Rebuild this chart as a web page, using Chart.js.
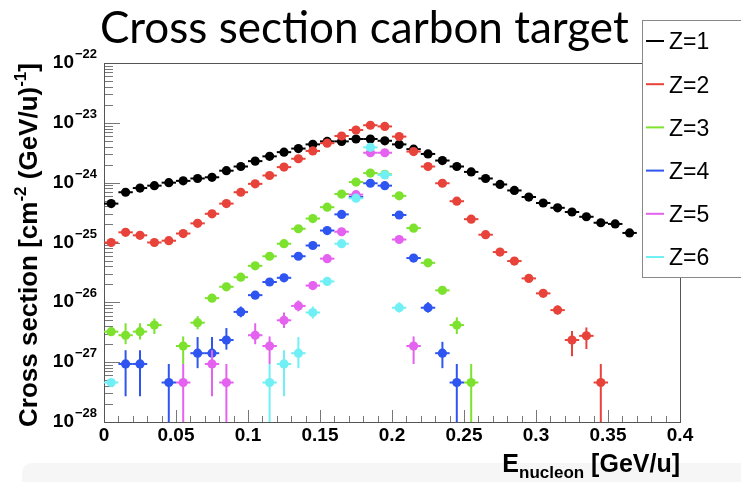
<!DOCTYPE html>
<html>
<head>
<meta charset="utf-8">
<script src="https://cdn.jsdelivr.net/npm/chart.js@4.4.1/dist/chart.umd.min.js"></script>
<style>
    html, body { margin: 0; padding: 0; background: #ffffff; }
    #wadah { position: relative; width: 741px; height: 482px; }
</style>
</head>
<body>
<div id="wadah"><canvas id="grafik" width="741" height="482"></canvas></div>
<script>
// bin centres (GeV/u), bin width 0.01
const binCenters = [
    0.005, 0.015, 0.025, 0.035, 0.045, 0.055, 0.065, 0.075, 0.085, 0.095,
    0.105, 0.115, 0.125, 0.135, 0.145, 0.155, 0.165, 0.175, 0.185, 0.195,
    0.205, 0.215, 0.225, 0.235, 0.245, 0.255, 0.265, 0.275, 0.285, 0.295,
    0.305, 0.315, 0.325, 0.335, 0.345, 0.355, 0.365,
];
const halfBin = 0.005;

// cross sections as log10 (cm^-2 (GeV/u)^-1), null = empty bin
const logZ1 = [
    -24.35, -24.16, -24.09, -24.05, -24.00, -23.97, -23.93, -23.91, -23.80, -23.73,
    -23.64, -23.56, -23.49, -23.43, -23.36, -23.31, -23.31, -23.27, -23.27, -23.30,
    -23.36, -23.44, -23.52, -23.63, -23.73, -23.82, -23.93, -24.03, -24.13, -24.24,
    -24.34, -24.42, -24.49, -24.57, -24.67, -24.69, -24.84,
];
const logZ2 = [
    -25.00, -24.83, -24.88, -25.00, -24.97, -24.85, -24.68, -24.52, -24.35, -24.16,
    -24.02, -23.88, -23.74, -23.60, -23.47, -23.34, -23.22, -23.12, -23.04, -23.06,
    -23.23, -23.48, -23.73, -24.01, -24.31, -24.61, -24.87, -25.16, -25.31, -25.60,
    -25.85, -26.13, -26.63, -26.56, -27.34,
];
const logZ3 = [
    -26.49, -26.55, -26.49, -26.38, null, -26.73, -26.34, -25.93, -25.74, -25.58,
    -25.39, -25.23, -25.02, -24.77, -24.60, -24.41, -24.19, -23.99, -23.84, -23.86,
    -24.22, -24.76, -25.34, -25.80, -26.38, -27.34,
];
const logZ4 = [
    null, -27.03, -27.03, null, -27.34, null, -26.85, -26.85, -26.63, -26.16,
    -25.88, -25.66, -25.59, -25.23, -25.05, -24.80, -24.53, -24.24, -24.01, -24.05,
    -24.54, -25.26, -26.09, -26.85, -27.34,
];
const logZ5 = [
    null, null, null, null, null, -27.34, null, -27.03, -27.34, null,
    -26.55, -26.73, -26.30, -26.06, -25.72, -25.27, -24.82, -24.20, -23.50, -23.50,
    -24.95, -26.73,
];
const logZ6 = [
    -27.34, null, null, null, null, null, null, null, null, null,
    null, -27.34, -27.03, -26.85, -26.17, -25.65, -25.02, -24.26, -23.41, -23.87,
    -26.09,
];

// visible vertical errors: [bin, log10 low, log10 high]; -30 = down to zero
const errZ1 = [];
const errZ2 = [[31, -26.20, -26.05], [32, -26.90, -26.48], [33, -26.78, -26.42], [34, -30, -27.03]];
const errZ3 = [
    [0, -26.55, -26.42], [1, -26.70, -26.35], [2, -26.62, -26.35], [3, -26.53, -26.27],
    [5, -27.03, -26.57], [6, -26.45, -26.23], [24, -26.53, -26.25], [25, -30, -27.03],
];
const errZ4 = [
    [1, -27.57, -26.80], [2, -27.57, -26.80], [4, -30, -27.03], [6, -27.10, -26.58],
    [7, -27.10, -26.58], [8, -26.79, -26.43], [9, -26.25, -26.07], [22, -26.17, -26.00],
    [23, -27.10, -26.66], [24, -30, -27.03],
];
const errZ5 = [
    [5, -30, -27.03], [7, -27.57, -26.80], [8, -30, -27.03], [10, -26.70, -26.35],
    [11, -27.03, -26.57], [12, -26.43, -26.17], [13, -26.15, -25.97], [21, -27.03, -26.57],
];
const errZ6 = [
    [11, -30, -27.03], [12, -27.57, -26.80], [13, -27.10, -26.58], [14, -26.27, -26.07],
    [20, -26.17, -26.00],
];

const seriesLabels = ["Z=1", "Z=2", "Z=3", "Z=4", "Z=5", "Z=6"];
const seriesColors = ["#000000", "#e8433a", "#7ce22e", "#2f55f0", "#e462ef", "#70f0f4"];

// axis ticks
const xMajorTicks = [0, 0.05, 0.1, 0.15, 0.2, 0.25, 0.3, 0.35, 0.4];
const xTickLabels = ["0", "0.05", "0.1", "0.15", "0.2", "0.25", "0.3", "0.35", "0.4"];
const xMinorStep = 0.01;
const yDecades = [-28, -27, -26, -25, -24, -23, -22];
const yMinorMults = [2, 3, 4, 5, 6, 7, 8, 9];

const semuaLog = [logZ1, logZ2, logZ3, logZ4, logZ5, logZ6];
const semuaErr = [errZ1, errZ2, errZ3, errZ4, errZ5, errZ6];

const datasets = semuaLog.map((log, s) => ({
    label: seriesLabels[s],
    data: log
        .map((v, i) => (v === null ? null : { x: binCenters[i], y: Math.pow(10, v) }))
        .filter((p) => p !== null),
    showLine: false,
    pointRadius: 4.6,
    pointHoverRadius: 4.6,
    pointBorderWidth: 0,
    pointBackgroundColor: seriesColors[s],
    borderColor: seriesColors[s],
    order: 6 - s,
}));

const pluginLatar = {
    id: "latar",
    beforeDraw(chart) {
        const ctx = chart.ctx;
        ctx.save();
        ctx.fillStyle = "#f6f6f6";
        ctx.beginPath();
        ctx.roundRect(22, 463, 760, 40, 10);
        ctx.fill();
        ctx.restore();
    },
};

const pluginSumbu = {
    id: "sumbu",
    beforeDatasetsDraw(chart) {
        const { ctx, chartArea: a, scales } = chart;
        const x = scales.x;
        const y = scales.y;
        ctx.save();
        ctx.strokeStyle = "#777777";
        ctx.lineWidth = 1;

        // x ticks pointing inward
        for (let v = 0; v <= 0.4 + 1e-9; v += xMinorStep) {
            const px = Math.round(x.getPixelForValue(v)) + 0.5;
            const mayor = xMajorTicks.some((t) => Math.abs(t - v) < 1e-6);
            ctx.beginPath();
            ctx.moveTo(px, a.bottom);
            ctx.lineTo(px, a.bottom - (mayor ? 12 : 6));
            ctx.stroke();
        }

        // y ticks pointing inward
        yDecades.forEach((e) => {
            const py = Math.round(y.getPixelForValue(Math.pow(10, e))) + 0.5;
            ctx.beginPath();
            ctx.moveTo(a.left, py);
            ctx.lineTo(a.left + 16, py);
            ctx.stroke();
            if (e === yDecades[yDecades.length - 1]) {
                return;
            }
            yMinorMults.forEach((m) => {
                const pm = Math.round(y.getPixelForValue(m * Math.pow(10, e))) + 0.5;
                ctx.beginPath();
                ctx.moveTo(a.left, pm);
                ctx.lineTo(a.left + 9, pm);
                ctx.stroke();
            });
        });

        // frame
        ctx.strokeStyle = "#555555";
        ctx.strokeRect(a.left + 0.5, a.top + 0.5, a.right - a.left, a.bottom - a.top);
        ctx.restore();
    },
    beforeDatasetDraw(chart, args) {
        const { ctx, chartArea: a, scales } = chart;
        const x = scales.x;
        const y = scales.y;
        const s = args.index;
        ctx.save();
        ctx.beginPath();
        ctx.rect(a.left, a.top, a.right - a.left, a.bottom - a.top);
        ctx.clip();
        ctx.strokeStyle = seriesColors[s];
        ctx.lineWidth = 2;
        semuaLog[s].forEach((v, i) => {
            if (v === null) {
                return;
            }
            const py = y.getPixelForValue(Math.pow(10, v));
            ctx.beginPath();
            ctx.moveTo(x.getPixelForValue(binCenters[i] - halfBin), py);
            ctx.lineTo(x.getPixelForValue(binCenters[i] + halfBin), py);
            ctx.stroke();
        });
        semuaErr[s].forEach(([i, lo, hi]) => {
            const px = x.getPixelForValue(binCenters[i]);
            ctx.beginPath();
            ctx.moveTo(px, y.getPixelForValue(Math.pow(10, lo)));
            ctx.lineTo(px, y.getPixelForValue(Math.pow(10, hi)));
            ctx.stroke();
        });
        ctx.restore();
    },
};

const pluginTeks = {
    id: "teks",
    afterDraw(chart) {
        const { ctx, chartArea: a, scales } = chart;
        const x = scales.x;
        const y = scales.y;
        ctx.save();
        ctx.fillStyle = "#000000";

        // title
        ctx.font = "44px Lato";
        ctx.textBaseline = "alphabetic";
        ctx.textAlign = "left";
        ctx.fillText("Cross section carbon target", 100, 43);

        // x tick labels
        ctx.font = "bold 19px 'Liberation Sans'";
        ctx.textAlign = "center";
        xMajorTicks.forEach((t, k) => {
            ctx.fillText(xTickLabels[k], x.getPixelForValue(t), 441);
        });

        // y tick labels 10^n
        yDecades.forEach((e) => {
            const py = y.getPixelForValue(Math.pow(10, e));
            const pangkat = "\u2212" + Math.abs(e);
            ctx.font = "bold 13px 'Liberation Sans'";
            const lebarPangkat = ctx.measureText(pangkat).width;
            const xPangkat = 97 - lebarPangkat;
            ctx.textAlign = "left";
            ctx.fillText(pangkat, xPangkat, py - 5);
            ctx.font = "bold 19px 'Liberation Sans'";
            ctx.textAlign = "right";
            ctx.fillText("10", xPangkat - 1, py + 5);
        });

        // x axis title
        ctx.textAlign = "left";
        const bagianX = [
            ["E", "bold 25px 'Liberation Sans'", 0],
            ["nucleon", "bold 17px 'Liberation Sans'", 6],
            [" [GeV/u]", "bold 25px 'Liberation Sans'", 0],
        ];
        let lebarX = 0;
        bagianX.forEach(([t, f]) => {
            ctx.font = f;
            lebarX += ctx.measureText(t).width;
        });
        let posX = a.right - lebarX;
        bagianX.forEach(([t, f, dy]) => {
            ctx.font = f;
            ctx.fillText(t, posX, 472 + dy);
            posX += ctx.measureText(t).width;
        });

        // y axis title (rotated)
        const bagianY = [
            ["Cross section [cm", "bold 26px 'Liberation Sans'", 0],
            ["-2", "bold 17px 'Liberation Sans'", -11],
            [" (GeV/u)", "bold 26px 'Liberation Sans'", 0],
            ["-1", "bold 17px 'Liberation Sans'", -11],
            ["]", "bold 26px 'Liberation Sans'", 0],
        ];
        let lebarY = 0;
        bagianY.forEach(([t, f]) => {
            ctx.font = f;
            lebarY += ctx.measureText(t).width;
        });
        ctx.translate(37, 245);
        ctx.rotate(-Math.PI / 2);
        let posY = -lebarY / 2;
        bagianY.forEach(([t, f, dy]) => {
            ctx.font = f;
            ctx.fillText(t, posY, dy);
            posY += ctx.measureText(t).width;
        });
        ctx.restore();

        // legend box
        ctx.save();
        ctx.fillStyle = "#ffffff";
        ctx.strokeStyle = "#888888";
        ctx.lineWidth = 1;
        ctx.fillRect(642, 20, 110, 257);
        ctx.strokeRect(642.5, 20.5, 110, 257);
        ctx.font = "23px 'Liberation Sans'";
        ctx.textAlign = "left";
        ctx.textBaseline = "middle";
        seriesLabels.forEach((lbl, k) => {
            const ry = 41 + k * 43.2;
            ctx.strokeStyle = seriesColors[k];
            ctx.lineWidth = 2;
            ctx.beginPath();
            ctx.moveTo(646, ry);
            ctx.lineTo(664, ry);
            ctx.stroke();
            ctx.fillStyle = "#000000";
            ctx.fillText(lbl, 669, ry + 2);
        });
        ctx.restore();
    },
};

new Chart(document.getElementById("grafik"), {
    type: "scatter",
    data: { datasets: datasets },
    options: {
        responsive: false,
        animation: false,
        layout: { padding: { left: 104, right: 61, top: 63, bottom: 60 } },
        plugins: {
            legend: { display: false },
            tooltip: { enabled: false },
        },
        scales: {
            x: {
                type: "linear",
                min: 0,
                max: 0.4,
                ticks: { display: false },
                grid: { display: false },
                border: { display: false },
                afterFit: (skala) => {
                    skala.height = 0;
                },
            },
            y: {
                type: "logarithmic",
                min: 1e-28,
                max: 1e-22,
                ticks: { display: false },
                grid: { display: false },
                border: { display: false },
                afterFit: (skala) => {
                    skala.width = 0;
                },
            },
        },
    },
    plugins: [pluginLatar, pluginSumbu, pluginTeks],
});
</script>
</body>
</html>
